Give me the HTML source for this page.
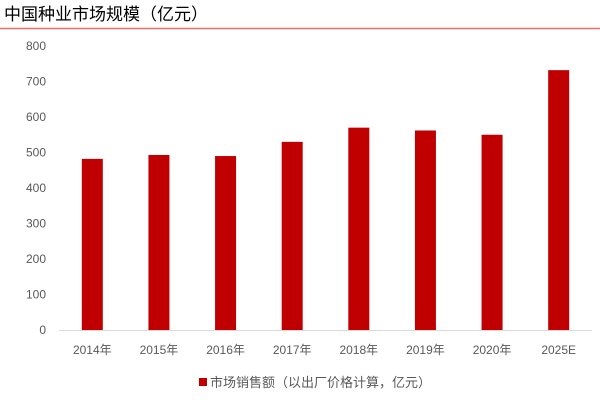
<!DOCTYPE html>
<html><head><meta charset="utf-8"><style>
body{margin:0;background:#fff;width:600px;height:400px;overflow:hidden;font-family:"Liberation Sans","Noto Sans CJK SC",sans-serif}
</style></head><body>
<svg width="600" height="400" xmlns="http://www.w3.org/2000/svg">
<text x="4" y="20" font-size="17" fill="#000" font-family="Liberation Sans, Noto Sans CJK SC, sans-serif">中国种业市场规模（亿元）</text>
<line x1="0" y1="28.5" x2="600" y2="28.5" stroke="#f06a6a" stroke-width="1.5"/>
<g id="yaxis"></g>
<g id="bars"></g>
<g id="xaxis"></g>
<line x1="59" y1="330.5" x2="592" y2="330.5" stroke="#d9d9d9"/>
<g>
<rect x="199" y="378" width="8" height="8" fill="#c00000"/>
<text x="210" y="387" font-size="13" fill="#595959" font-family="Liberation Sans, Noto Sans CJK SC, sans-serif">市场销售额（以出厂价格计算，亿元）</text>
</g>
</svg>
<script>
const categories=["2014年","2015年","2016年","2017年","2018年","2019年","2020年","2025E"];
const values=[482,493,490,530,570,562,550,732];
const yTicks=[0,100,200,300,400,500,600,700,800];
const NS="http://www.w3.org/2000/svg";
const x0=59,x1=592,yBase=330,yTop=46,yMax=800;
const y=v=>yBase-(v/yMax)*(yBase-yTop);
const band=(x1-x0)/categories.length;
const xc=i=>x0+band*(i+0.5);
const ya=document.getElementById('yaxis'),bg=document.getElementById('bars'),xa=document.getElementById('xaxis');
yTicks.forEach(t=>{const e=document.createElementNS(NS,'text');


e.setAttribute('x',46);e.setAttribute('y',y(t)+4);e.setAttribute('text-anchor','end');
e.setAttribute('font-size','12');e.setAttribute('fill','#595959');e.textContent=t;ya.appendChild(e);});
values.forEach((v,i)=>{const r=document.createElementNS(NS,'rect');


r.setAttribute('x',xc(i)-10.5);r.setAttribute('width',21);r.setAttribute('y',y(v));r.setAttribute('height',yBase-y(v));
r.setAttribute('fill','#c00000');bg.appendChild(r);});
categories.forEach((c,i)=>{const e=document.createElementNS(NS,'text');


e.setAttribute('x',xc(i));e.setAttribute('y',354);e.setAttribute('text-anchor','middle');
e.setAttribute('font-size','12');e.setAttribute('fill','#595959');
e.setAttribute('font-family','Liberation Sans, Noto Sans CJK SC, sans-serif');e.textContent=c;xa.appendChild(e);});
</script>
</body></html>
